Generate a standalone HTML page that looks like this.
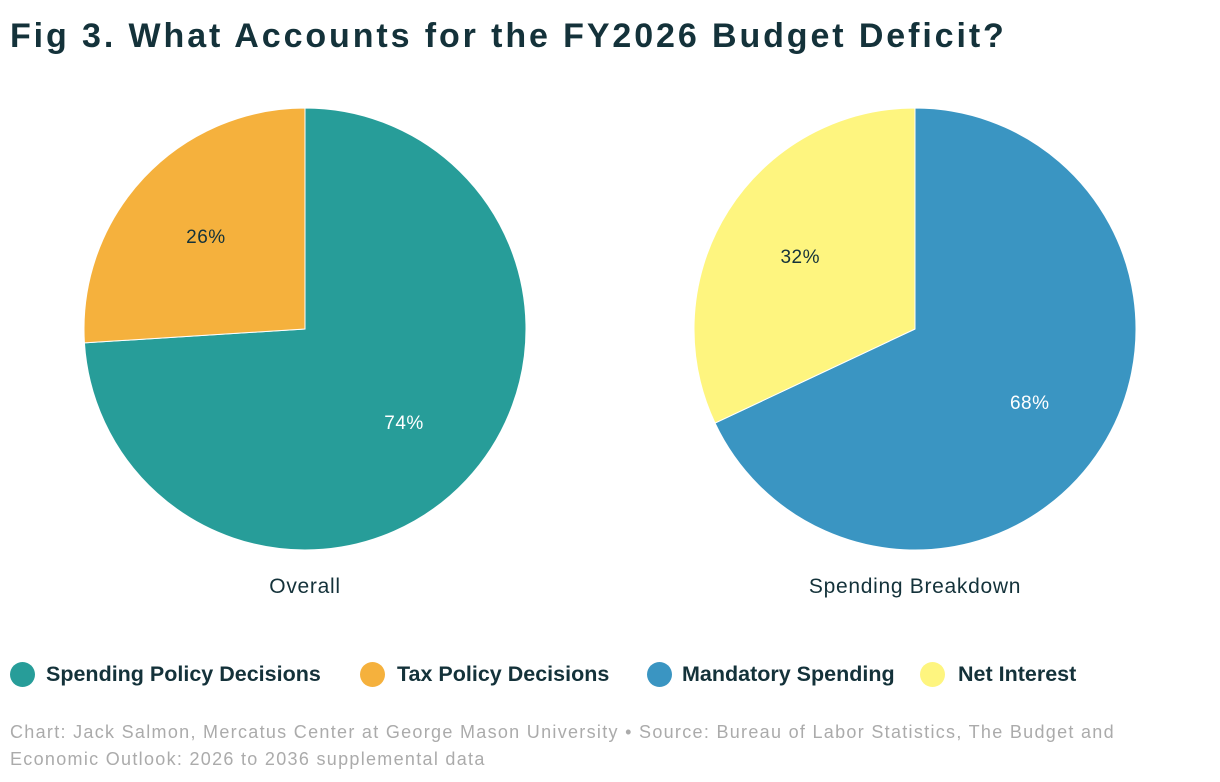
<!DOCTYPE html>
<html><head><meta charset="utf-8"><style>
body{margin:0;width:1220px;height:782px;background:#fff;font-family:"Liberation Sans",sans-serif;overflow:hidden;position:relative}
.t{position:absolute;white-space:nowrap}
.dot{position:absolute;top:662px;width:25px;height:25px;border-radius:50%}
.lt{position:absolute;top:662px;font-size:21.5px;font-weight:bold;color:#14323a;white-space:nowrap}
</style></head><body>
<div class="t" style="left:10px;top:17px;font-size:34px;font-weight:bold;color:#14323a;letter-spacing:2.9px">Fig 3. What Accounts for the FY2026 Budget Deficit?</div>
<svg id="c" width="1220" height="620" style="position:absolute;left:0;top:0"></svg>
<div>
 <div class="dot" style="left:10px;background:#279d99"></div>
 <div class="lt" style="left:46px">Spending Policy Decisions</div>
 <div class="dot" style="left:360px;background:#f5b13d"></div>
 <div class="lt" style="left:397px">Tax Policy Decisions</div>
 <div class="dot" style="left:647px;background:#3a95c2"></div>
 <div class="lt" style="left:682px">Mandatory Spending</div>
 <div class="dot" style="left:920px;background:#fef57f"></div>
 <div class="lt" style="left:958px">Net Interest</div>
</div>
<div class="t" style="left:10px;top:719px;font-size:18px;letter-spacing:1.3px;color:#ababab;line-height:27px">Chart: Jack Salmon, Mercatus Center at George Mason University • Source: Bureau of Labor Statistics, The Budget and<br>Economic Outlook: 2026 to 2036 supplemental data</div>
<script>
const pie1Labels=["Spending Policy Decisions","Tax Policy Decisions"];
const pie1Values=[74,26];
const pie2Labels=["Mandatory Spending","Net Interest"];
const pie2Values=[68,32];
const titles=["Overall","Spending Breakdown"];
const NS="http://www.w3.org/2000/svg",svg=document.getElementById('c');
function pie(cx,cy,r,vals,cols,txtCols,title){
 const tot=vals.reduce((a,b)=>a+b,0);let a0=0;
 vals.forEach((v,i)=>{
  const a1=a0+v/tot*2*Math.PI;
  const p=a=>[cx+r*Math.sin(a),cy-r*Math.cos(a)];
  const [x0,y0]=p(a0),[x1,y1]=p(a1);
  const path=document.createElementNS(NS,'path');
  path.setAttribute('d',`M${cx},${cy}L${x0},${y0}A${r},${r} 0 ${a1-a0>Math.PI?1:0} 1 ${x1},${y1}Z`);
  path.setAttribute('fill',cols[i]);path.setAttribute('stroke','#fff');path.setAttribute('stroke-width','1');
  
  
  svg.appendChild(path);
  const m=(a0+a1)/2,lr=r*0.615;
  const t=document.createElementNS(NS,'text');
  t.setAttribute('x',cx+lr*Math.sin(m));t.setAttribute('y',cy-lr*Math.cos(m)+7);
  t.setAttribute('text-anchor','middle');t.setAttribute('font-size','19');t.setAttribute('fill',txtCols[i]);
  t.setAttribute('font-family','Liberation Sans, sans-serif');t.setAttribute('letter-spacing','0.5');
  t.textContent=v+'%';
  
  
  svg.appendChild(t);
  a0=a1;
 });
 const t=document.createElementNS(NS,'text');
 t.setAttribute('x',cx);t.setAttribute('y',593);t.setAttribute('text-anchor','middle');
 t.setAttribute('font-size','21');t.setAttribute('letter-spacing','0.7');t.setAttribute('fill','#14323a');t.setAttribute('font-family','Liberation Sans, sans-serif');
 t.textContent=title;
 
 
 svg.appendChild(t);
}
pie(305,329,221,pie1Values,["#279d99","#f5b13d"],["#fff","#14323a"],titles[0]);
pie(915,329,221,pie2Values,["#3a95c2","#fef57f"],["#fff","#14323a"],titles[1]);
</script>
</body></html>
